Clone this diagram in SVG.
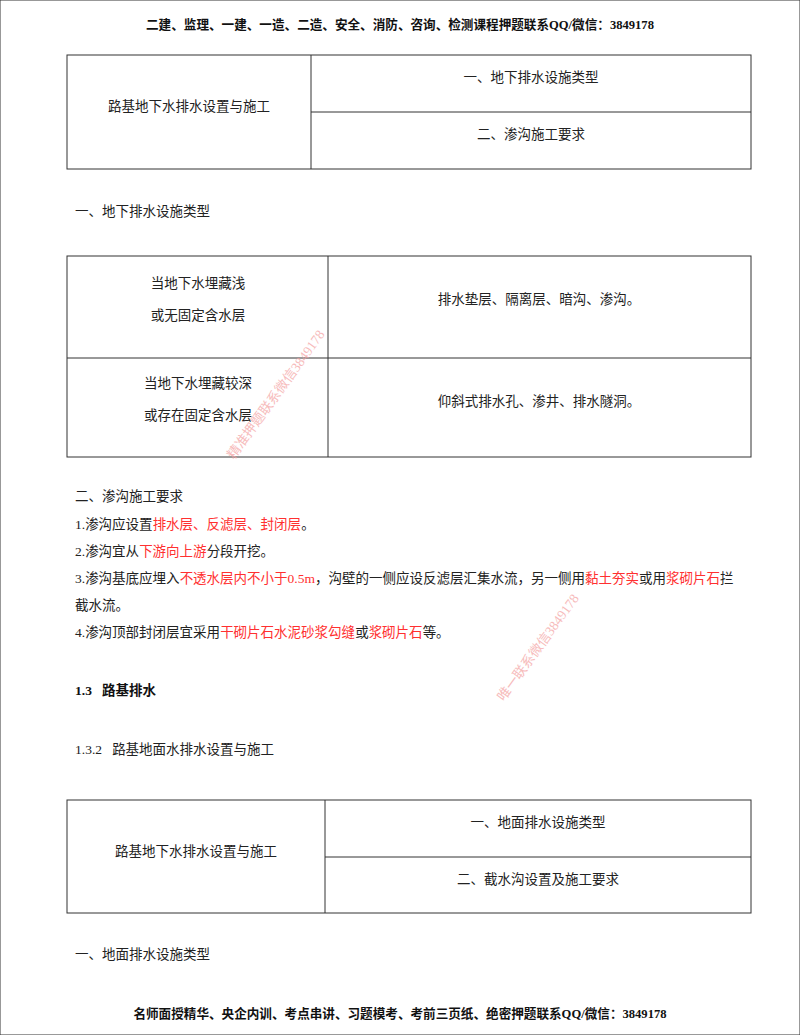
<svg xmlns="http://www.w3.org/2000/svg" width="800" height="1035" viewBox="0 0 800 1035">
<style>
text{font-family:"Liberation Serif","Noto Sans CJK SC",serif;font-size:13.5px;fill:#222;white-space:pre}
.b{font-weight:bold;font-size:12.6px;fill:#111}
.r{fill:#ff3030}
.c{text-anchor:middle}
.w{font-size:13.5px;fill:#f4a0a0;opacity:.7}
rect,line{stroke:#333;stroke-width:1;fill:none}
</style>
<rect width="800" height="1035" fill="#fff" stroke="none"/>
<text class="b c" x="400" y="29">二建、监理、一建、一造、二造、安全、消防、咨询、检测课程押题联系QQ/微信：3849178</text>
<g id="table1">
<rect x="67" y="55" width="684" height="114"/>
<line x1="311" y1="55" x2="311" y2="169"/>
<line x1="311" y1="112" x2="751" y2="112"/>
<text class="c" x="189" y="111">路基地下水排水设置与施工</text>
<text class="c" x="531" y="82">一、地下排水设施类型</text>
<text class="c" x="531" y="139">二、渗沟施工要求</text>
</g>
<text x="75" y="216">一、地下排水设施类型</text>
<g id="table2">
<rect x="67" y="256" width="684" height="201"/>
<line x1="328" y1="256" x2="328" y2="457"/>
<line x1="67" y1="358" x2="751" y2="358"/>
<text class="c" x="198" y="288">当地下水埋藏浅</text>
<text class="c" x="198" y="320">或无固定含水层</text>
<text class="c" x="539" y="304">排水垫层、隔离层、暗沟、渗沟。</text>
<text class="c" x="198" y="388">当地下水埋藏较深</text>
<text class="c" x="198" y="420">或存在固定含水层</text>
<text class="c" x="539" y="406">仰斜式排水孔、渗井、排水隧洞。</text>
</g>
<text x="75" y="501">二、渗沟施工要求</text>
<text x="75" y="529">1.渗沟应设置<tspan class="r">排水层、反滤层、封闭层</tspan>。</text>
<text x="75" y="556">2.渗沟宜从<tspan class="r">下游向上游</tspan>分段开挖。</text>
<text x="75" y="583">3.渗沟基底应埋入<tspan class="r">不透水层内不小于0.5m</tspan>，沟壁的一侧应设反滤层汇集水流，另一侧用<tspan class="r">黏土夯实</tspan>或用<tspan class="r">浆砌片石</tspan>拦</text>
<text x="75" y="610">截水流。</text>
<text x="75" y="637">4.渗沟顶部封闭层宜采用<tspan class="r">干砌片石水泥砂浆勾缝</tspan>或<tspan class="r">浆砌片石</tspan>等。</text>
<text class="w" transform="translate(234,460) rotate(-54)">精准押题联系微信3849178</text>
<text class="w" transform="translate(504,702) rotate(-54)">唯一联系微信3849178</text>
<text class="b" x="75" y="695" style="font-size:13.5px">1.3   路基排水</text>
<text x="75" y="754">1.3.2   路基地面水排水设置与施工</text>
<g id="table3">
<rect x="67" y="800" width="684" height="113"/>
<line x1="325" y1="800" x2="325" y2="913"/>
<line x1="325" y1="857" x2="751" y2="857"/>
<text class="c" x="196" y="856">路基地下水排水设置与施工</text>
<text class="c" x="538" y="827">一、地面排水设施类型</text>
<text class="c" x="538" y="884">二、截水沟设置及施工要求</text>
</g>
<text x="75" y="959">一、地面排水设施类型</text>
<text class="b c" x="400" y="1018">名师面授精华、央企内训、考点串讲、习题模考、考前三页纸、绝密押题联系QQ/微信：3849178</text>
</svg>
